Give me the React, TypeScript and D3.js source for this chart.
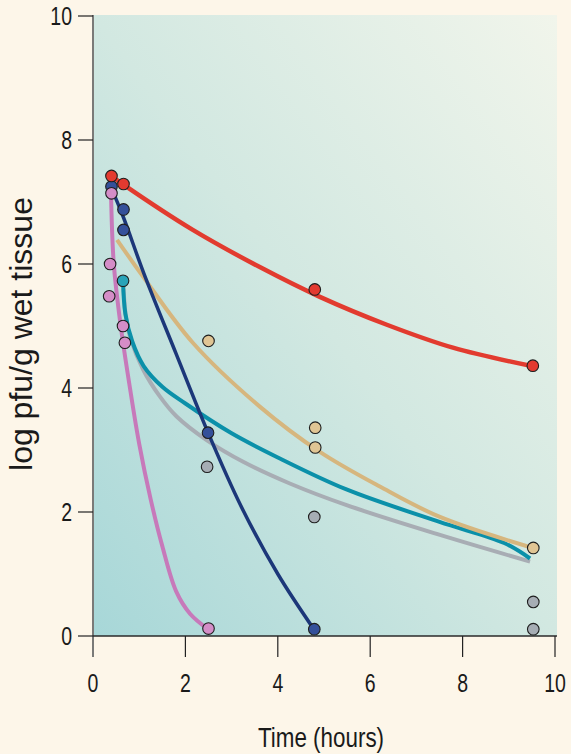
import React from "react";
import * as d3 from "d3";

// tick labels
const xTicks = [0, 2, 4, 6, 8, 10];
const yTicks = [0, 2, 4, 6, 8, 10];

// measured points [hours, log pfu/g]
const redPoints = [[0.4, 7.42], [0.66, 7.29], [4.8, 5.59], [9.52, 4.36]];
const navyPoints = [[0.4, 7.25], [0.66, 6.88], [0.66, 6.55], [2.49, 3.28], [4.79, 0.11]];
const pinkPoints = [[0.4, 7.14], [0.37, 6.0], [0.35, 5.48], [0.65, 5.0], [0.69, 4.73], [2.5, 0.12]];
const tealPoints = [[0.65, 5.73]];
const tanPoints = [[2.5, 4.76], [4.81, 3.36], [4.81, 3.04], [9.53, 1.42]];
const greyPoints = [[2.47, 2.73], [4.79, 1.92], [9.53, 0.55], [9.53, 0.11]];

// fitted curves
const redCurve = [[0.4, 7.42], [0.66, 7.28], [2.16, 6.55], [3.61, 5.95], [4.91, 5.47], [6.36, 5.02], [7.79, 4.65], [9.52, 4.35]];
const navyCurve = [[0.39, 7.24], [0.66, 6.75], [1.1, 5.85], [1.8, 4.55], [2.49, 3.28], [3.2, 2.1], [4.0, 1.0], [4.78, 0.11]];
const pinkCurve = [[0.39, 7.15], [0.45, 6.0], [0.6, 5.0], [0.8, 4.0], [1.0, 3.1], [1.25, 2.2], [1.5, 1.45], [1.8, 0.72], [2.1, 0.36], [2.49, 0.11]];
const tealCurve = [[0.65, 5.73], [0.7, 5.2], [0.85, 4.75], [1.1, 4.35], [1.5, 4.02], [2.0, 3.75], [3.0, 3.27], [4.0, 2.88], [5.5, 2.36], [7.5, 1.84], [8.9, 1.5], [9.46, 1.25]];
const tanCurve = [[0.52, 6.39], [1.08, 5.8], [2.16, 4.73], [3.61, 3.7], [4.91, 2.97], [6.21, 2.41], [7.51, 1.92], [9.52, 1.42]];
const greyCurve = [[0.66, 5.6], [0.72, 5.1], [0.8, 4.83], [1.09, 4.29], [1.45, 3.86], [1.81, 3.54], [2.46, 3.16], [3.25, 2.81], [4.26, 2.46], [5.49, 2.11], [7.51, 1.63], [9.46, 1.2]];

const W = 571;
const H = 754;
const sans = "'Liberation Sans', Arial, Helvetica, sans-serif";

const x = d3.scaleLinear().domain([0, 10]).range([93, 555]);
const y = d3.scaleLinear().domain([0, 10]).range([636, 16]);

const line = d3
  .line<number[]>()
  .x((d) => x(d[0]))
  .y((d) => y(d[1]))
  .curve(d3.curveCatmullRom.alpha(0.5));

const curves = [
  { data: greyCurve, color: "#a8adb4", w: 4 },
  { data: tealCurve, color: "#0b90a9", w: 4 },
  { data: tanCurve, color: "#d6b67e", w: 4 },
  { data: pinkCurve, color: "#c779ba", w: 4 },
  { data: navyCurve, color: "#1c3779", w: 3.5 },
  { data: redCurve, color: "#e23b2f", w: 4.5 },
];

const points = [
  { data: greyPoints, fill: "#a6adb4" },
  { data: tanPoints, fill: "#e0c594" },
  { data: tealPoints, fill: "#29a3b8" },
  { data: navyPoints, fill: "#34509a" },
  { data: pinkPoints, fill: "#d48dc7" },
  { data: redPoints, fill: "#e33a30" },
];

// narrow text: regular sans squeezed horizontally
const Narrow = ({ x, y, anchor, size, sx, children }: any) => (
  <g transform={`translate(${x},${y}) scale(${sx},1)`}>
    <text textAnchor={anchor} fontSize={size} fontFamily={sans} fill="#1a1a1a">
      {children}
    </text>
  </g>
);

export default function App() {
  return (
    <svg width={W} height={H} style={{ position: "absolute", left: 0, top: 0 }}>
      <defs>
        <linearGradient id="bg" x1="0" y1="1" x2="1" y2="0">
          <stop offset="0" stopColor="#a7d7d8" />
          <stop offset="0.5" stopColor="#d2e8e1" />
          <stop offset="1" stopColor="#f1f5eb" />
        </linearGradient>
      </defs>
      <rect x={0} y={0} width={W} height={H} fill="#fdf6e9" />
      <rect x={x(0)} y={15} width={557 - x(0)} height={y(0) - 15} fill="url(#bg)" />

      {/* y axis */}
      <line x1={x(0)} x2={x(0)} y1={15} y2={657} stroke="#7a7a78" strokeWidth={2} />
      {yTicks.map((t) => (
        <g key={"y" + t}>
          <line x1={78} x2={x(0)} y1={y(t)} y2={y(t)} stroke="#222" strokeWidth={1.2} />
          <Narrow x={72} y={y(t) + 9} anchor="end" size={25} sx={0.78}>
            {t}
          </Narrow>
        </g>
      ))}

      {/* x axis */}
      <line x1={x(0)} x2={557} y1={y(0)} y2={y(0)} stroke="#2a2a2a" strokeWidth={1.5} />
      {xTicks.map((t) => (
        <g key={"x" + t}>
          {t > 0 && <line x1={x(t)} x2={x(t)} y1={y(0)} y2={657} stroke="#222" strokeWidth={1.2} />}
          <Narrow x={x(t)} y={692} anchor="middle" size={25} sx={0.78}>
            {t}
          </Narrow>
        </g>
      ))}

      {curves.map((c, i) => (
        <path key={"c" + i} d={line(c.data) || ""} fill="none" stroke={c.color} strokeWidth={c.w} />
      ))}

      {points.map((s, i) =>
        s.data.map((d, j) => (
          <circle key={"p" + i + "-" + j} cx={x(d[0])} cy={y(d[1])} r={5.8} fill={s.fill} stroke="#1e1e1e" strokeWidth={1.1} />
        ))
      )}

      <Narrow x={321} y={747} anchor="middle" size={28} sx={0.8}>
        Time (hours)
      </Narrow>
      <text
        transform="translate(32,334) rotate(-90)"
        textAnchor="middle"
        fontSize={32}
        fontFamily={sans}
        fill="#1a1a1a"
      >
        log pfu/g wet tissue
      </text>
    </svg>
  );
}
